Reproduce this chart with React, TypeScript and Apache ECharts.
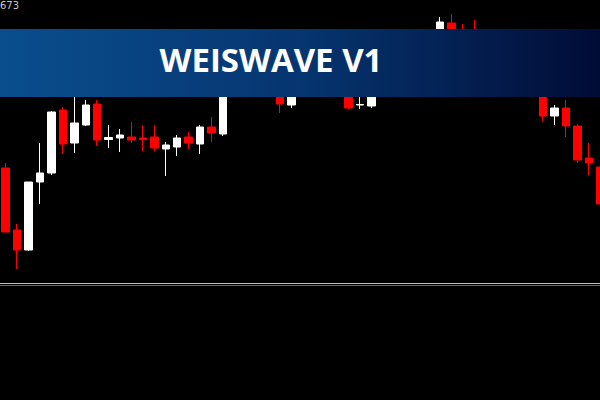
import React, { useEffect, useRef } from "react";
import * as echarts from "echarts";

const categories: string[] = Array.from({ length: 53 }, (_, i) => `C${i + 1}`);

const opens = [
  1.0832, 1.0770, 1.0750, 1.0818, 1.0827, 1.0890, 1.0857, 1.0875, 1.0896, 1.08605,
  1.0862, 1.0863, 1.0862, 1.0863, 1.0851, 1.0853, 1.0863, 1.0856, 1.0873, 1.0866,
  1.0914, 1.0934, 1.0926, 1.0942, 1.0918, 1.0895, 1.0910, 1.0922, 1.0912, 1.0920,
  1.0910, 1.0895, 1.0894, 1.0908, 1.0924, 1.0940, 1.0934, 1.0952, 1.0964, 1.0977,
  1.0960, 1.0948, 1.0934, 1.0940, 1.0928, 1.0920, 1.0926, 1.0912, 1.0884, 1.0892,
  1.0874, 1.0842, 1.0833,
];
const closes = [
  1.0768, 1.0750, 1.0818, 1.0827, 1.0888, 1.0856, 1.0877, 1.0895, 1.0860, 1.08625,
  1.0865, 1.0860, 1.08605, 1.0852, 1.0855, 1.0862, 1.0857, 1.0873, 1.0867, 1.0914,
  1.0934, 1.0926, 1.0942, 1.0918, 1.0896, 1.0910, 1.0922, 1.0912, 1.0920, 1.0910,
  1.0892, 1.08955, 1.0908, 1.0924, 1.0940, 1.0934, 1.0952, 1.0965, 1.0978, 1.0960,
  1.0948, 1.0934, 1.0940, 1.0928, 1.0920, 1.0926, 1.0912, 1.0884, 1.0892, 1.0874,
  1.0840, 1.0837, 1.0796,
];
const lows = [
  1.0768, 1.0731, 1.0749, 1.0796, 1.0825, 1.0846, 1.0847, 1.0874, 1.0854, 1.0852,
  1.0848, 1.0857, 1.0849, 1.0849, 1.0824, 1.0844, 1.0851, 1.0846, 1.0858, 1.0864,
  1.0910, 1.0920, 1.0922, 1.0912, 1.0887, 1.0892, 1.0905, 1.0908, 1.0906, 1.0904,
  1.0891, 1.0891, 1.0892, 1.0905, 1.0918, 1.0928, 1.0930, 1.0948, 1.0960, 1.0956,
  1.0942, 1.0930, 1.0925, 1.0922, 1.0912, 1.0914, 1.0908, 1.0879, 1.0875, 1.0863,
  1.0837, 1.0825, 1.0792,
];
const highs = [
  1.0837, 1.0776, 1.0818, 1.0857, 1.0889, 1.0893, 1.0908, 1.0900, 1.0900, 1.0875,
  1.0871, 1.0878, 1.0875, 1.0875, 1.0858, 1.0865, 1.0868, 1.0875, 1.0883, 1.0920,
  1.0940, 1.0945, 1.0950, 1.0948, 1.0922, 1.0916, 1.0930, 1.0928, 1.0926, 1.0924,
  1.0915, 1.0905, 1.0912, 1.0930, 1.0945, 1.0950, 1.0958, 1.0969, 1.0983, 1.0986,
  1.0976, 1.0980, 1.0945, 1.0948, 1.0934, 1.0930, 1.0930, 1.0918, 1.0895, 1.0900,
  1.0876, 1.0857, 1.0845,
];

const priceMin = 1.06;
const priceMax = 1.1;
const cornerLabel = "673";
const title = "WEISWAVE V1";

export default function App() {
  const ref = useRef<HTMLDivElement>(null);

  useEffect(() => {
    if (!ref.current) return;
    const chart = echarts.init(ref.current, undefined, { renderer: "svg" });
    const data = categories.map((_, i) => [opens[i], closes[i], lows[i], highs[i]]);
    chart.setOption({
      animation: false,
      backgroundColor: "#000000",
      grid: { left: 0, right: 0, top: 0, bottom: 0, containLabel: false },
      xAxis: {
        type: "category",
        data: categories,
        boundaryGap: true,
        axisLine: { show: false },
        axisTick: { show: false },
        axisLabel: { show: false },
        splitLine: { show: false },
      },
      yAxis: {
        type: "value",
        min: priceMin,
        max: priceMax,
        axisLine: { show: false },
        axisTick: { show: false },
        axisLabel: { show: false },
        splitLine: { show: false },
      },
      series: [
        {
          type: "candlestick",
          data,
          barWidth: 8,
          itemStyle: {
            color: "#ffffff",
            color0: "#ff0000",
            borderColor: "#ffffff",
            borderColor0: "#ff0000",
            borderWidth: 1,
          },
        },
      ],
      graphic: [
        {
          type: "line",
          shape: { x1: 0, y1: 283.5, x2: 606, y2: 283.5 },
          style: { stroke: "#bdbdbd", lineWidth: 1 },
          z: 50,
        },
        {
          type: "line",
          shape: { x1: 0, y1: 285.5, x2: 606, y2: 285.5 },
          style: { stroke: "#6a6a6a", lineWidth: 1 },
          z: 50,
        },
        {
          type: "text",
          x: 0,
          y: 0,
          style: {
            text: cornerLabel,
            fill: "#c8c8c8",
            font: "10px 'DejaVu Sans', sans-serif",
            textVerticalAlign: "top",
          },
          z: 50,
        },
        {
          type: "rect",
          shape: { x: 0, y: 29, width: 600, height: 68 },
          style: {
            fill: new echarts.graphic.LinearGradient(0, 0, 1, 0, [
              { offset: 0, color: "#0a4e8e" },
              { offset: 0.5, color: "#063570" },
              { offset: 1, color: "#010c36" },
            ]),
          },
          z: 100,
        },
        {
          type: "rect",
          shape: { x: 600, y: 29, width: 6, height: 68 },
          style: { fill: "#010c36" },
          z: 100,
        },
        {
          type: "text",
          x: 271,
          y: 59,
          style: {
            text: title,
            fill: "#ffffff",
            font: "bold 33px 'Open Sans', sans-serif",
            textAlign: "center",
            textVerticalAlign: "middle",
          },
          z: 101,
        },
      ],
    });
    return () => chart.dispose();
  }, []);

  return (
    <div style={{ position: "fixed", left: 0, top: 0, width: 600, height: 400, overflow: "hidden", background: "#000" }}>
      <div ref={ref} style={{ width: 606, height: 400 }} />
    </div>
  );
}
